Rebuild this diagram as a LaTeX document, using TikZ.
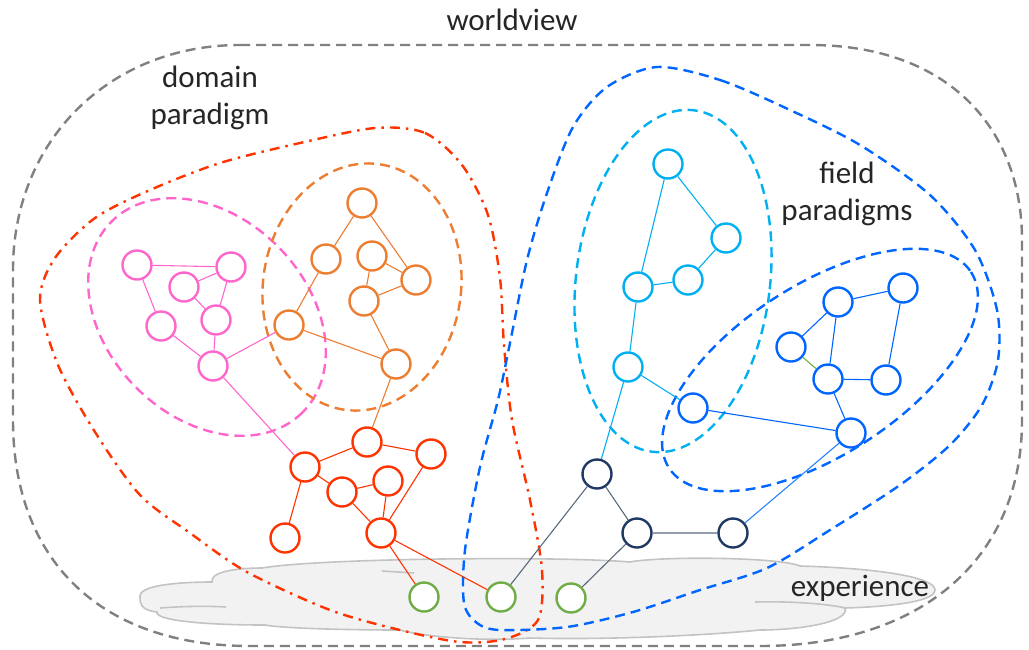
\documentclass[tikz,border=0pt]{standalone}
\usepackage{fontspec}
\setmainfont{Carlito}
\usepackage{tikz}
\usetikzlibrary{shapes.geometric}
\definecolor{pinkc}{RGB}{255,102,204}
\definecolor{orangec}{RGB}{237,125,49}
\definecolor{redc}{RGB}{255,51,0}
\definecolor{greenc}{RGB}{112,173,71}
\definecolor{navyc}{RGB}{31,56,100}
\definecolor{slatec}{RGB}{90,105,125}
\definecolor{cyanc}{RGB}{0,176,240}
\definecolor{bluec}{RGB}{0,102,255}
\definecolor{lightbluec}{RGB}{40,130,255}
\definecolor{grayc}{RGB}{128,128,128}
\definecolor{cloudc}{RGB}{242,242,242}
\definecolor{cloudline}{RGB}{195,195,195}
\tikzstyle{Vertex}=[circle, minimum size=29pt, inner sep=0pt, line width=2.4pt, fill=white]
\tikzstyle{Link}=[line width=1.1pt]
\tikzstyle{Border}=[line width=2.4pt, dash pattern=on 10pt off 6pt]
\tikzstyle{DashDot}=[line width=2.4pt, dash pattern=on 10pt off 6pt on 2.5pt off 6pt]
\tikzstyle{Label}=[font=\fontsize{31pt}{37pt}\selectfont, text=black!85, align=center]

\begin{document}
\begin{tikzpicture}[x=1pt, y=-1pt]
    \useasboundingbox (0,0) rectangle (1029,649);

    % experience cloud
    \draw[cloudline, fill=cloudc, line width=1.6pt]
    (140,597) .. controls (138,585) and (180,582) .. (212,582)
    .. controls (210,572) and (235,568) .. (262,568)
    .. controls (320,558) and (560,556) .. (630,562)
    .. controls (660,556) and (780,557) .. (800,566)
    .. controls (870,568) and (935,576) .. (935,590)
    .. controls (935,603) and (880,607) .. (845,608)
    .. controls (850,622) and (800,630) .. (760,630)
    .. controls (700,636) and (600,640) .. (530,638)
    .. controls (480,642) and (420,636) .. (400,630)
    .. controls (340,630) and (280,628) .. (265,625)
    .. controls (200,625) and (155,620) .. (157,612)
    .. controls (140,610) and (140,603) .. (140,597) -- cycle;
    \draw[cloudline, line width=1.6pt] (160,608) .. controls (185,606) and (210,606) .. (226,607);
    \draw[cloudline, line width=1.6pt] (382,571) -- (414,573);
    \draw[cloudline, line width=1.6pt] (755,602) .. controls (790,601) and (830,604) .. (845,608);

    % contours
    \draw[Border, grayc] (240,45) -- (810,45) .. controls (950,45) and (1022,130) .. (1022,240)
    -- (1022,420) .. controls (1022,560) and (920,646) .. (760,646) -- (250,646)
    .. controls (100,646) and (13,560) .. (13,420) -- (13,270)
    .. controls (13,140) and (110,45) .. (240,45) -- cycle;
    \draw[DashDot, redc] plot[smooth cycle] coordinates {(375,128) (425,133) (462,165)
    (488,215) (500,278) (504,345) (512,420) (530,500) (542,570) (538,620) (505,639)
    (460,642) (400,630) (330,610) (247,572) (190,533) (140,495) (95,432) (58,365)
    (40,300) (55,258) (95,218) (150,190) (220,163) (300,143)};
    \draw[Border, pinkc] (207,317) ellipse [x radius=135, y radius=100, rotate=-45];
    \draw[Border, orangec] (362,287) ellipse [x radius=99, y radius=124, rotate=-8];
    \draw[Border, cyanc] (673,281) ellipse [x radius=97, y radius=172, rotate=-7];
    \draw[Border, bluec] (820,370) ellipse [x radius=180, y radius=85, rotate=33];
    \draw[Border, bluec] plot[smooth cycle] coordinates {(657,67) (720,80) (790,110) (860,145)
    (930,195) (975,250) (997,310) (998,360) (982,405) (950,445) (900,485) (830,530) (767,568)
    (700,590) (633,612) (567,627) (500,630) (477,623) (464,603) (465,550) (480,467) (498,400)
    (510,343) (527,260) (547,193) (573,127) (607,87)};

    % vertices
    \path
    (137,265) node[Vertex, draw=pinkc] (p1) {}
    (231,267) node[Vertex, draw=pinkc] (p2) {}
    (184,287) node[Vertex, draw=pinkc] (p3) {}
    (216,320) node[Vertex, draw=pinkc] (p4) {}
    (161,326) node[Vertex, draw=pinkc] (p5) {}
    (213,366) node[Vertex, draw=pinkc] (p6) {};

    \path
    (362,203) node[Vertex, draw=orangec] (o1) {}
    (326,259) node[Vertex, draw=orangec] (o2) {}
    (372,256) node[Vertex, draw=orangec] (o3) {}
    (416,280) node[Vertex, draw=orangec] (o4) {}
    (364,301) node[Vertex, draw=orangec] (o5) {}
    (289,325) node[Vertex, draw=orangec] (o6) {}
    (396,364) node[Vertex, draw=orangec] (o7) {};

    \path
    (367,442) node[Vertex, draw=redc] (r1) {}
    (305,467) node[Vertex, draw=redc] (r2) {}
    (431,454) node[Vertex, draw=redc] (r3) {}
    (342,492) node[Vertex, draw=redc] (r4) {}
    (388,481) node[Vertex, draw=redc] (r5) {}
    (381,533) node[Vertex, draw=redc] (r6) {}
    (285,538) node[Vertex, draw=redc] (r7) {};

    \path
    (424,597) node[Vertex, draw=greenc] (g1) {}
    (501,597) node[Vertex, draw=greenc] (g2) {}
    (571,598) node[Vertex, draw=greenc] (g3) {};

    \path
    (597,474) node[Vertex, draw=navyc] (n1) {}
    (637,533) node[Vertex, draw=navyc] (n2) {}
    (733,533) node[Vertex, draw=navyc] (n3) {};

    \path
    (668,164) node[Vertex, draw=cyanc] (c1) {}
    (726,238) node[Vertex, draw=cyanc] (c2) {}
    (688,280) node[Vertex, draw=cyanc] (c3) {}
    (638,287) node[Vertex, draw=cyanc] (c4) {}
    (628,367) node[Vertex, draw=cyanc] (c5) {};

    \path
    (693,408) node[Vertex, draw=bluec] (b1) {}
    (838,302) node[Vertex, draw=bluec] (b2) {}
    (903,288) node[Vertex, draw=bluec] (b3) {}
    (791,347) node[Vertex, draw=bluec] (b4) {}
    (828,379) node[Vertex, draw=bluec] (b5) {}
    (886,380) node[Vertex, draw=bluec] (b6) {}
    (851,433) node[Vertex, draw=bluec] (b7) {};

    % links
    \draw[Link, pinkc] (p1) -- (p2) (p3) -- (p2) (p2) -- (p4) (p3) -- (p4) (p1) -- (p5)
    (p5) -- (p6) (p4) -- (p6) (p6) -- (o6) (p6) -- (r2);
    \draw[Link, orangec] (o1) -- (o2) (o1) -- (o4) (o3) -- (o4) (o3) -- (o5) (o5) -- (o4)
    (o2) -- (o6) (o6) -- (o7) (o5) -- (o7) (o7) -- (r1);
    \draw[Link, redc] (r1) -- (r2) (r1) -- (r3) (r2) -- (r4) (r4) -- (r5) (r4) -- (r6)
    (r5) -- (r6) (r3) -- (r6) (r2) -- (r7) (r6) -- (g1) (r6) -- (g2);
    \draw[Link, slatec] (g2) -- (n1) (g3) -- (n2) (n1) -- (n2) (n2) -- (n3);
    \draw[Link, cyanc] (c1) -- (c2) (c1) -- (c4) (c2) -- (c3) (c3) -- (c4) (c4) -- (c5)
    (c5) -- (b1) (c5) -- (n1);
    \draw[Link, bluec] (b2) -- (b3) (b2) -- (b4) (b2) -- (b5) (b3) -- (b6) (b5) -- (b6)
    (b5) -- (b7) (b1) -- (b7);
    \draw[Link, lightbluec] (b7) -- (n3);
    \draw[Link, greenc] (b4) -- (b5);

    % labels
    \path
    (512,20) node[Label] (world) {worldview}
    (210,98) node[Label] (domain) {domain\\paradigm}
    (847,194) node[Label] (field) {field\\paradigms}
    (860,588) node[Label] (exp) {experience};
\end{tikzpicture}
\end{document}
